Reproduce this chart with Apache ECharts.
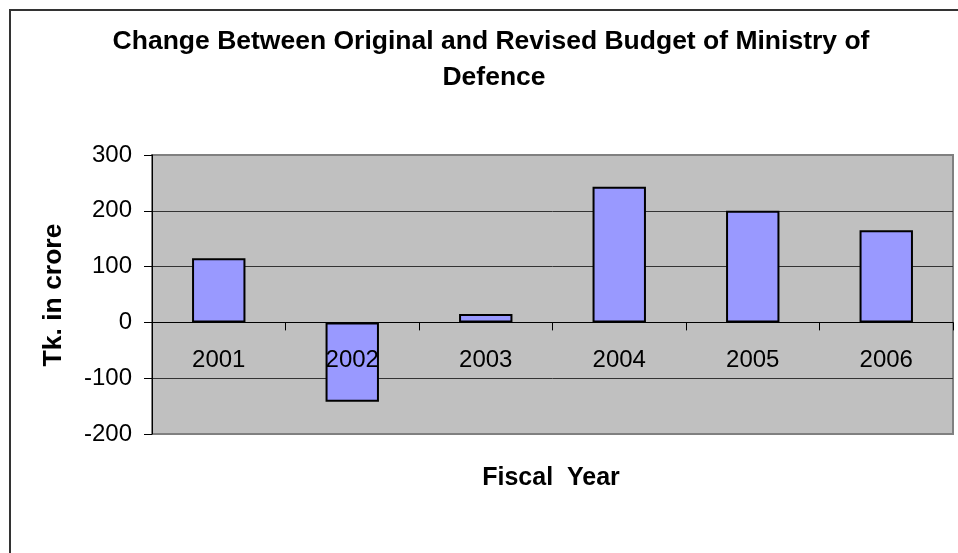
<!DOCTYPE html>
<html>
<head>
<meta charset="utf-8">
<title>Change Between Original and Revised Budget of Ministry of Defence</title>
<script src="https://cdn.jsdelivr.net/npm/echarts@6/dist/echarts.min.js"></script>
<style>
  html, body { margin: 0; padding: 0; background: #ffffff; }
  #chart { width: 958px; height: 553px; }
</style>
</head>
<body>
<div id="chart"></div>
<script>
// Fiscal years shown along the category axis
const years = ['2001', '2002', '2003', '2004', '2005', '2006'];
// Revised minus original budget, Tk. in crore
const budgetChange = [115, -142, 15, 243, 200, 165];
// Value axis range and step
const yMin = -200;
const yMax = 300;
const yStep = 100;

const FONT = '"Liberation Sans", Arial, Helvetica, sans-serif';

// Plot rectangle inside the 958x553 canvas
const GRID = { left: 152, top: 155, right: 5, bottom: 119 };
const plotHeight = 553 - GRID.top - GRID.bottom;
// Lift the category axis (line, ticks, labels) up to the zero value
const zeroOffset = -plotHeight * (0 - yMin) / (yMax - yMin);

const chart = echarts.init(document.getElementById('chart'), null, { renderer: 'canvas' });

chart.setOption({
  animation: false,
  backgroundColor: '#ffffff',
  graphic: [
    {
      type: 'rect',
      shape: { x: 10, y: 10, width: 1000, height: 600 },
      style: { fill: 'none', stroke: '#333333', lineWidth: 2 },
      silent: true,
      z: -10
    },
    {
      type: 'text',
      style: {
        text: 'Change Between Original and Revised Budget of Ministry of',
        x: 491, y: 42,
        textAlign: 'center', textVerticalAlign: 'middle',
        font: 'bold 26.5px ' + FONT, fill: '#000000'
      }
    },
    {
      type: 'text',
      style: {
        text: 'Defence',
        x: 494, y: 78,
        textAlign: 'center', textVerticalAlign: 'middle',
        font: 'bold 26.5px ' + FONT, fill: '#000000'
      }
    },
    {
      type: 'text',
      style: {
        text: 'Fiscal  Year',
        x: 551, y: 478,
        textAlign: 'center', textVerticalAlign: 'middle',
        font: 'bold 25px ' + FONT, fill: '#000000'
      }
    },
    {
      type: 'text',
      x: 54, y: 295,
      rotation: Math.PI / 2,
      style: {
        text: 'Tk. in crore',
        x: 0, y: 0,
        textAlign: 'center', textVerticalAlign: 'middle',
        font: 'bold 26.5px ' + FONT, fill: '#000000'
      }
    }
  ],
  grid: {
    left: GRID.left,
    top: GRID.top,
    right: GRID.right,
    bottom: GRID.bottom,
    show: true,
    backgroundColor: '#c0c0c0',
    borderColor: '#808080',
    borderWidth: 2
  },
  xAxis: {
    type: 'category',
    data: years,
    offset: zeroOffset,
    z: 5,
    axisLine: { onZero: false, lineStyle: { color: '#000000', width: 1 } },
    axisTick: { show: true, length: 8, alignWithLabel: false, lineStyle: { color: '#000000' } },
    axisLabel: { color: '#000000', fontSize: 24, fontFamily: FONT, margin: 26 },
    splitLine: { show: false }
  },
  yAxis: {
    type: 'value',
    min: yMin,
    max: yMax,
    interval: yStep,
    axisLine: { show: true, lineStyle: { color: '#000000', width: 1 } },
    axisTick: { show: true, length: 8, lineStyle: { color: '#000000' } },
    axisLabel: { color: '#000000', fontSize: 24, fontFamily: FONT, margin: 20 },
    splitLine: {
      show: true,
      showMinLine: false,
      showMaxLine: false,
      lineStyle: { color: '#333333', width: 1 }
    }
  },
  series: [
    {
      type: 'bar',
      data: budgetChange,
      barWidth: '40%',
      itemStyle: { color: '#9999ff', borderColor: '#000000', borderWidth: 2 }
    }
  ]
});
</script>
</body>
</html>
